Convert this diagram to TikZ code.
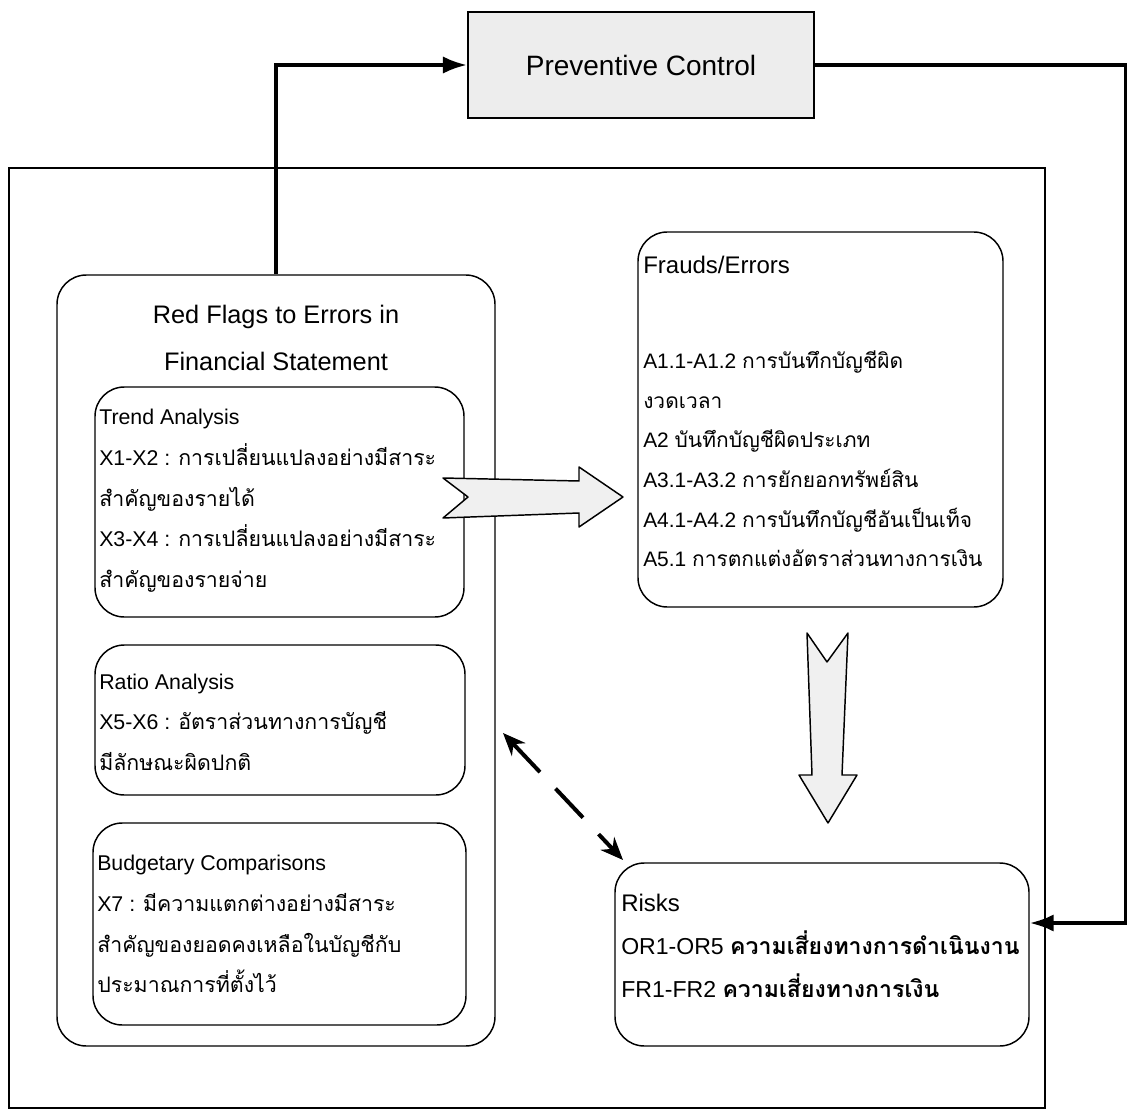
\documentclass[tikz,border=0pt]{standalone}
\usepackage{fontspec}
\setmainfont{Liberation Sans}
\newfontfamily\thaifont[Script=Thai]{Loma}
\newcommand{\thtxt}[1]{{\thaifont #1}}
\usetikzlibrary{arrows.meta, fit}

\begin{document}
\begin{tikzpicture}[
    x=0.75pt, y=-0.75pt,
    >={Latex[length=18pt,width=13pt]},
    conn/.style={line width=2.6pt},
    panel/.style={draw, line width=1.1pt, rounded corners=22pt, inner sep=0pt},
    txt/.style={align=left, anchor=west, inner sep=0pt, font=\fontsize{16}{30.5}\selectfont},
    bigtxt/.style={txt, font=\fontsize{18}{30.5}\selectfont},
    blockarrow/.style={draw, line width=1.1pt, fill=gray!12, line join=round}
]
    \useasboundingbox (0,0) rectangle (1127,1112);

    % Preventive control on top
    \node[draw, line width=1.6pt, fill=gray!14, fit={(468,12) (814,118)}, inner sep=0pt] (prev) {};
    \node[font=\fontsize{21}{25}\selectfont] (prevtxt) at (prev.center) {Preventive Control};

    % Outer frame
    \node[draw, line width=1.5pt, fit={(9,168) (1045,1108)}, inner sep=0pt] (frame) {};

    % Red flags block
    \node[panel, fit={(57,275) (495,1046)}] (flags) {};
    \node[align=center, font=\fontsize{19}{35}\selectfont] (flagstitle) at (276,338)
        {Red Flags to Errors in\\ Financial Statement};

    \node[panel, fit={(95,387) (464,617)}] (trend) {};
    \node[txt] (trendtxt) at (99,501) {Trend Analysis\\
        X1-X2 : \thtxt{การเปลี่ยนแปลงอย่างมีสาระ}\\
        \thtxt{สำคัญของรายได้}\\
        X3-X4 : \thtxt{การเปลี่ยนแปลงอย่างมีสาระ}\\
        \thtxt{สำคัญของรายจ่าย}};

    \node[panel, fit={(95,645) (465,795)}] (ratio) {};
    \node[txt] (ratiotxt) at (99,722) {Ratio Analysis\\
        X5-X6 : \thtxt{อัตราส่วนทางการบัญชี}\\
        \thtxt{มีลักษณะผิดปกติ}};

    \node[panel, fit={(93,823) (466,1025)}] (budget) {};
    \node[txt] (budgettxt) at (97,924) {Budgetary Comparisons\\
        X7 : \thtxt{มีความแตกต่างอย่างมีสาระ}\\
        \thtxt{สำคัญของยอดคงเหลือในบัญชีกับ}\\
        \thtxt{ประมาณการที่ตั้งไว้}};

    % Frauds / errors
    \node[panel, fit={(638,232) (1003,607)}] (frauds) {};
    \node[bigtxt] (fraudstitle) at (643,265) {Frauds/Errors};
    \node[txt, font=\fontsize{15.7}{29.7}\selectfont] (fraudstxt) at (643,459) {%
        A1.1-A1.2 \thtxt{การบันทึกบัญชีผิด}\\
        \thtxt{งวดเวลา}\\
        A2 \thtxt{บันทึกบัญชีผิดประเภท}\\
        A3.1-A3.2 \thtxt{การยักยอกทรัพย์สิน}\\
        A4.1-A4.2 \thtxt{การบันทึกบัญชีอันเป็นเท็จ}\\
        A5.1 \thtxt{การตกแต่งอัตราส่วนทางการเงิน}};

    % Risks
    \node[panel, fit={(615,863) (1029,1046)}] (risks) {};
    \node[bigtxt, font=\fontsize{17.3}{32}\selectfont] (riskstxt) at (621,946) {{\fontsize{18}{32}\selectfont Risks}\\
        OR1-OR5 \thtxt{\bfseries ความเสี่ยงทางการดำเนินงาน}\\
        FR1-FR2 \thtxt{\bfseries ความเสี่ยงทางการเงิน}};

    % Block arrows
    \draw[blockarrow] (443,478) -- (579,481) -- (579,467) -- (623,497) -- (579,527)
        -- (579,513) -- (443,518) -- (468,497) -- cycle;
    \draw[blockarrow] (807,633) -- (827,662) -- (848,633) -- (842,775) -- (857,775)
        -- (828,823) -- (799,775) -- (812,775) -- cycle;

    % Feedback loop through preventive control
    \coordinate (loopr) at (1126,923);
    \draw[conn, ->] (flags.north) |- (prev.west);
    \draw[conn, ->] (prev.east) -| (loopr) -- (loopr -| risks.east);

    % Dashed link
    \coordinate (dashA) at (503,733);
    \coordinate (dashB) at (623,860);
    \draw[line width=3pt, {Stealth[length=17pt,width=14pt]}-{Stealth[length=17pt,width=14pt]},
        dash pattern=on 30pt off 17pt] (dashA) -- (dashB);

\end{tikzpicture}
\end{document}
